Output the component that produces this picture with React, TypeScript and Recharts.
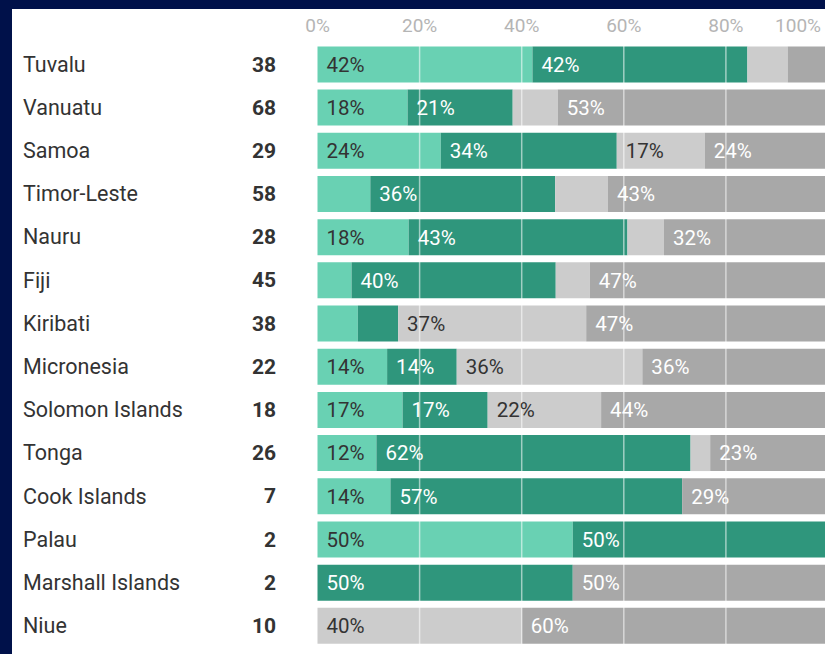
import {
  BarChart,
  Bar,
  XAxis,
  YAxis,
  LabelList,
  ReferenceLine,
} from 'recharts';

const countries = [
  'Tuvalu',
  'Vanuatu',
  'Samoa',
  'Timor-Leste',
  'Nauru',
  'Fiji',
  'Kiribati',
  'Micronesia',
  'Solomon Islands',
  'Tonga',
  'Cook Islands',
  'Palau',
  'Marshall Islands',
  'Niue',
];
const totals = [38, 68, 29, 58, 28, 45, 38, 22, 18, 26, 7, 2, 2, 10];

// counts per country, in stacking order (left to right)
const countLightTeal = [16, 12, 7, 6, 5, 3, 3, 3, 3, 3, 1, 1, 0, 0];
const countDarkTeal = [16, 14, 10, 21, 12, 18, 3, 3, 3, 16, 4, 1, 1, 0];
const countLightGrey = [3, 6, 5, 6, 2, 3, 14, 8, 4, 1, 0, 0, 0, 4];
const countGrey = [3, 36, 7, 25, 9, 21, 18, 8, 8, 6, 2, 0, 1, 6];

const xTicks = [0, 20, 40, 60, 80, 100];
const gridLines = [20, 40, 60, 80];

const FONT = 'Roboto, "Noto Sans", sans-serif';

const rows = countries.map((name, i) => {
  const t = totals[i];
  return {
    name,
    total: t,
    a: (countLightTeal[i] / t) * 100,
    b: (countDarkTeal[i] / t) * 100,
    c: (countLightGrey[i] / t) * 100,
    d: (countGrey[i] / t) * 100,
  };
});

function segmentLabel(color: string) {
  return (props: any) => {
    const vb = props.viewBox ?? {};
    const x = Number(props.x ?? vb.x);
    const y = Number(props.y ?? vb.y);
    const h = Number(props.height ?? vb.height);
    const value = Number(props.value);
    if (!value || value < 11) return null;
    return (
      <text
        x={x + 9}
        y={y + h / 2}
        dy="0.36em"
        fill={color}
        fontSize={20.5}
        fontFamily={FONT}
      >
        {Math.round(value)}%
      </text>
    );
  };
}

function XTick(props: any) {
  const { x, payload } = props;
  const last = payload.value === 100;
  return (
    <text
      x={last ? x - 5 : x}
      y={23}
      textAnchor={last ? 'end' : 'middle'}
      fill="#b5b5b5"
      fontSize={19}
      fontFamily={FONT}
    >
      {payload.value}%
    </text>
  );
}

function YTick(props: any) {
  const { y, payload } = props;
  const row = rows.find((r) => r.name === payload.value);
  return (
    <g>
      <text x={11} y={y} dy="0.36em" fill="#333" fontSize={21.5} fontFamily={FONT}>
        {payload.value}
      </text>
      <text
        x={264}
        y={y}
        dy="0.36em"
        textAnchor="end"
        fill="#333"
        fontSize={21}
        fontWeight="bold"
        fontFamily={FONT}
      >
        {row ? row.total : ''}
      </text>
    </g>
  );
}

export default function App() {
  return (
    <div
      style={{
        position: 'fixed',
        left: 0,
        top: 0,
        width: 825,
        height: 654,
        background: '#00114a',
        overflow: 'hidden',
      }}
    >
      <div
        style={{
          position: 'absolute',
          left: 12,
          top: 9,
          width: 830,
          height: 660,
          background: '#ffffff',
        }}
      >
        <BarChart
          width={826}
          height={650}
          data={rows}
          layout="vertical"
          margin={{ top: 0, right: 10, bottom: 12, left: 0 }}
        >
          <XAxis
            type="number"
            orientation="top"
            domain={[0, 100]}
            ticks={xTicks}
            height={33.4}
            axisLine={false}
            tickLine={false}
            tick={<XTick />}
          />
          <YAxis
            type="category"
            dataKey="name"
            width={305.5}
            axisLine={false}
            tickLine={false}
            interval={0}
            tick={<YTick />}
          />
          <Bar dataKey="a" stackId="s" fill="#69d1b3" barSize={36} isAnimationActive={false}>
            <LabelList dataKey="a" content={segmentLabel('#333333')} />
          </Bar>
          <Bar dataKey="b" stackId="s" fill="#2f967c" barSize={36} isAnimationActive={false}>
            <LabelList dataKey="b" content={segmentLabel('#ffffff')} />
          </Bar>
          <Bar dataKey="c" stackId="s" fill="#cccccc" barSize={36} isAnimationActive={false}>
            <LabelList dataKey="c" content={segmentLabel('#333333')} />
          </Bar>
          <Bar dataKey="d" stackId="s" fill="#a8a8a8" barSize={36} isAnimationActive={false}>
            <LabelList dataKey="d" content={segmentLabel('#ffffff')} />
          </Bar>
          {gridLines.map((g) => (
            <ReferenceLine
              key={g}
              x={g}
              stroke="#ffffff"
              strokeOpacity={0.55}
              strokeWidth={1.5}
            />
          ))}
        </BarChart>
      </div>
    </div>
  );
}
